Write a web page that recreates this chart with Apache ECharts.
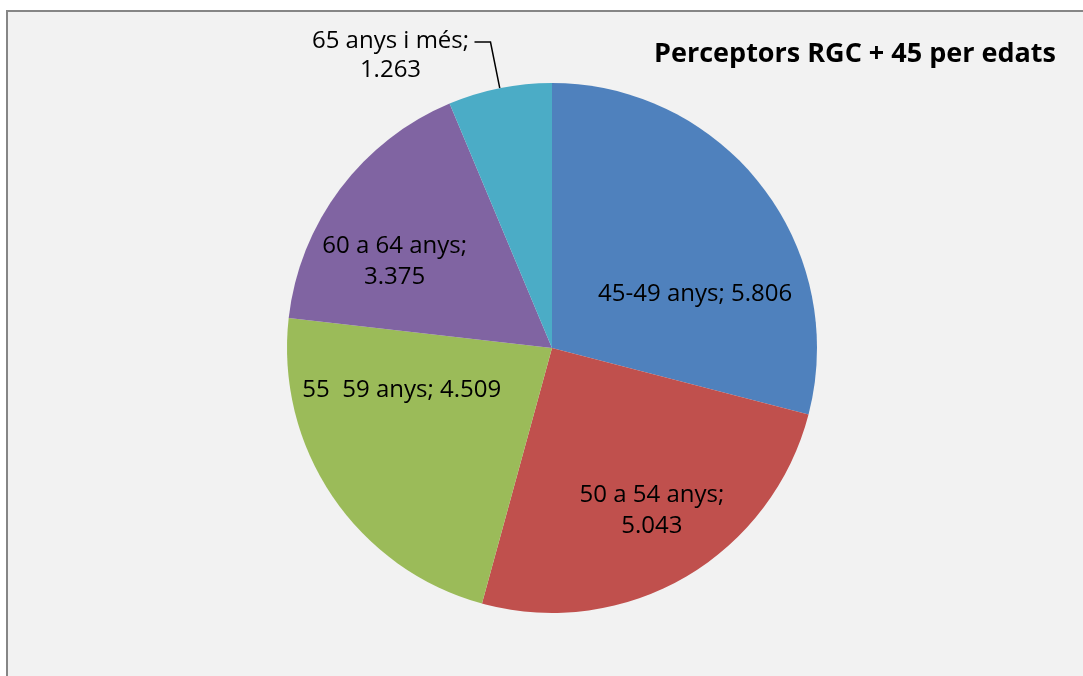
<!DOCTYPE html>
<html>
<head>
    <meta charset="utf-8">
    <title>Perceptors RGC + 45 per edats</title>
    <script src="https://cdn.jsdelivr.net/npm/echarts@6/dist/echarts.min.js"></script>
    <style>
        html, body { margin: 0; padding: 0; background: #fff; }
    </style>
</head>
<body>
    <div id="main" style="width: 1083px;height:676px;"></div>
    <script type="text/javascript">
        // dades
        var grups = ['45-49 anys', '50 a 54 anys', '55  59 anys', '60 a 64 anys', '65 anys i més'];
        var perceptors = [5806, 5043, 4509, 3375, 1263];
        var colors = ['#4f81bd', '#c0504d', '#9bbb59', '#8064a2', '#4bacc6'];

        // desplaçament de les etiquetes respecte la posicio 'inside' per defecte
        var labelShift = [[36, 29], [32, 45], [-38, -34], [-49, -5], [0, 14]];

        function fmt(v) {
            return String(v).replace(/\B(?=(\d{3})+(?!\d))/g, '.');
        }

        var myChart = echarts.init(document.getElementById('main'));

        var data = grups.map(function (g, i) {
            var item = { name: g, value: perceptors[i], itemStyle: { color: colors[i] } };
            if (i === 4) {
                item.label = {
                    position: 'outside',
                    formatter: function (p) {
                        return '{c|' + p.name + ';}\n{c|' + fmt(p.value) + '}';
                    }
                };
                item.labelLine = { show: true, length: 47, length2: 16 };
            }
            return item;
        });

        var option = {
            animation: false,
            graphic: [{
                type: 'rect',
                shape: { x: 7, y: 11, width: 1100, height: 700 },
                style: { fill: '#f2f2f2', stroke: '#868686', lineWidth: 2 },
                z: -10
            }],
            title: {
                text: 'Perceptors RGC + 45 per edats',
                right: 22,
                top: 36,
                textStyle: {
                    fontFamily: 'Open Sans',
                    fontWeight: 'bold',
                    fontSize: 27,
                    color: '#000'
                }
            },
            series: [{
                type: 'pie',
                center: [552, 348],
                radius: 265,
                startAngle: 90,
                clockwise: true,
                data: data,
                itemStyle: { borderWidth: 0 },
                label: {
                    show: true,
                    position: 'inside',
                    color: '#000',
                    fontFamily: 'Open Sans',
                    fontSize: 24,
                    lineHeight: 31,
                    align: 'center',
                    formatter: function (p) {
                        if (p.dataIndex === 1 || p.dataIndex === 3) {
                            return p.name + ';\n' + fmt(p.value);
                        }
                        return p.name + '; ' + fmt(p.value);
                    },
                    rich: {
                        c: { width: 158, align: 'center', fontFamily: 'Open Sans', fontSize: 24, lineHeight: 29, color: '#000' }
                    }
                },
                labelLine: {
                    show: false,
                    lineStyle: { color: '#000', width: 1.5 }
                },
                labelLayout: function (params) {
                    var s = labelShift[params.dataIndex];
                    return { dx: s[0], dy: s[1] };
                }
            }]
        };

        myChart.setOption(option);
    </script>
</body>
</html>
